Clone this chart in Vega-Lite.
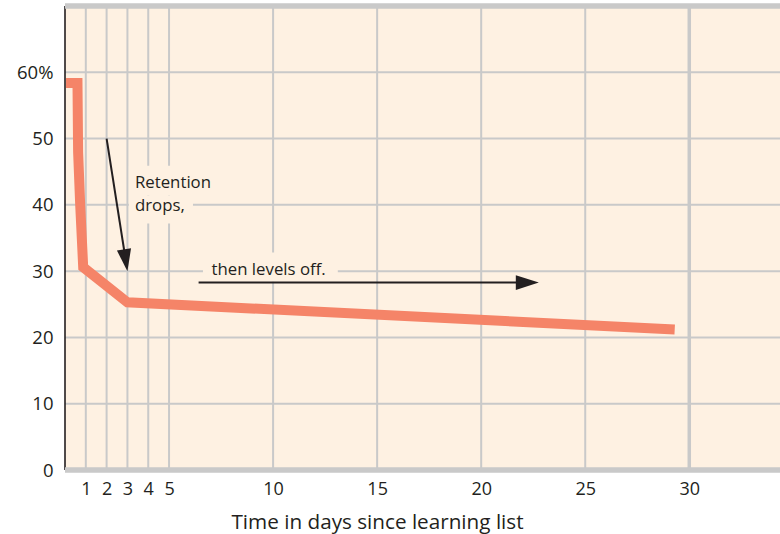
{
  "$schema": "https://vega.github.io/schema/vega-lite/v6.json",
  "width": 715,
  "height": 464,
  "autosize": {"type": "none"},
  "padding": {"left": 65, "top": 6, "right": 0, "bottom": 64},
  "background": "#ffffff",
  "config": {
    "view": {"fill": "#fef1e2", "stroke": null},
    "font": "Open Sans"
  },
  "datasets": {
    "retention": [
      {"t": 1, "day": 0.05, "pct": 58.4},
      {"t": 2, "day": 0.6, "pct": 58.4},
      {"t": 3, "day": 0.63, "pct": 48},
      {"t": 4, "day": 0.73, "pct": 40},
      {"t": 5, "day": 0.875, "pct": 30.6},
      {"t": 6, "day": 3, "pct": 25.3},
      {"t": 7, "day": 29.3, "pct": 21.2}
    ],
    "vgrid": [{"day": 1}, {"day": 2}, {"day": 3}, {"day": 4}, {"day": 5}, {"day": 10}, {"day": 15}, {"day": 20}, {"day": 25}],
    "vgrid30": [{"day": 30}],
    "hgrid": [{"pct": 10}, {"pct": 20}, {"pct": 30}, {"pct": 40}, {"pct": 50}, {"pct": 60}],
    "bands": [{"pct": 0}, {"pct": 70}],
    "leftline": [{"day": 0}],
    "masks": [
      {"day": 3.07, "day2": 7.54, "pct": 45.9, "pct2": 41.4},
      {"day": 3.07, "day2": 6.15, "pct": 41.4, "pct2": 37.2},
      {"day": 6.63, "day2": 13.11, "pct": 32.8, "pct2": 28.4}
    ],
    "arrows": [
      {"arrow": "a", "day": 2, "pct": 50},
      {"arrow": "a", "day": 2.85, "pct": 33},
      {"arrow": "b", "day": 6.42, "pct": 28.27},
      {"arrow": "b", "day": 22.0, "pct": 28.27}
    ],
    "heads": [
      {"arrow": "a", "day": 3, "pct": 30},
      {"arrow": "b", "day": 22.77, "pct": 28.27}
    ],
    "notes": [
      {"label": ["Retention", "drops,"], "day": 3.36, "pct": 42.5},
      {"label": ["then levels off."], "day": 7.04, "pct": 29.35}
    ]
  },
  "layer": [
    {
      "data": {"name": "vgrid"},
      "mark": {"type": "rule", "color": "#c9c9c9", "strokeWidth": 2},
      "encoding": {
        "x": {
          "field": "day", "type": "quantitative",
          "scale": {"domain": [0, 34.36], "nice": false, "zero": false},
          "axis": {
            "values": [1, 2, 3, 4, 5, 10, 15, 20, 25, 30],
            "domain": false, "ticks": false, "grid": false,
            "labelFont": "Open Sans", "labelFontSize": 18, "labelColor": "#231f20",
            "labelPadding": 10, "labelFlush": false,
            "title": "Time in days since learning list",
            "titleFont": "Open Sans", "titleFontSize": 20.7, "titleFontWeight": "normal",
            "titleColor": "#231f20", "titleX": 312, "titleY": 58,
            "titleAlign": "center", "titleBaseline": "alphabetic"
          }
        }
      }
    },
    {
      "data": {"name": "vgrid30"},
      "mark": {"type": "rule", "color": "#c9c9c9", "strokeWidth": 3.5},
      "encoding": {"x": {"field": "day", "type": "quantitative"}}
    },
    {
      "data": {"name": "hgrid"},
      "mark": {"type": "rule", "color": "#c9c9c9", "strokeWidth": 2},
      "encoding": {
        "y": {
          "field": "pct", "type": "quantitative",
          "scale": {"domain": [0, 70], "nice": false, "zero": false},
          "axis": {
            "values": [0, 10, 20, 30, 40, 50, 60],
            "labelExpr": "datum.value == 60 ? '60%' : datum.label",
            "domain": false, "ticks": false, "grid": false,
            "labelFont": "Open Sans", "labelFontSize": 18.5, "labelColor": "#231f20",
            "labelPadding": 12, "title": null
          }
        }
      }
    },
    {
      "data": {"name": "leftline"},
      "mark": {"type": "rule", "color": "#231f20", "strokeWidth": 1.6},
      "encoding": {"x": {"field": "day", "type": "quantitative"}}
    },
    {
      "data": {"name": "bands"},
      "mark": {"type": "rule", "color": "#c9c9c9", "strokeWidth": 5.5},
      "encoding": {"y": {"field": "pct", "type": "quantitative"}}
    },
    {
      "data": {"name": "masks"},
      "mark": {"type": "rect", "color": "#fef1e2", "opacity": 1, "strokeWidth": 0},
      "encoding": {
        "x": {"field": "day", "type": "quantitative"},
        "x2": {"field": "day2"},
        "y": {"field": "pct", "type": "quantitative"},
        "y2": {"field": "pct2"}
      }
    },
    {
      "data": {"name": "notes"},
      "mark": {"type": "text", "align": "left", "baseline": "alphabetic", "font": "Open Sans", "fontSize": 16.8, "lineHeight": 23, "color": "#231f20"},
      "encoding": {
        "x": {"field": "day", "type": "quantitative"},
        "y": {"field": "pct", "type": "quantitative"},
        "text": {"field": "label"}
      }
    },
    {
      "data": {"name": "retention"},
      "mark": {"type": "line", "color": "#f58468", "strokeWidth": 10, "strokeJoin": "miter", "strokeCap": "butt"},
      "encoding": {
        "x": {"field": "day", "type": "quantitative"},
        "y": {"field": "pct", "type": "quantitative"},
        "order": {"field": "t", "type": "quantitative"}
      }
    },
    {
      "data": {"name": "arrows"},
      "mark": {"type": "line", "color": "#231f20", "strokeWidth": 2},
      "encoding": {
        "x": {"field": "day", "type": "quantitative"},
        "y": {"field": "pct", "type": "quantitative"},
        "detail": {"field": "arrow"}
      }
    },
    {
      "data": {"name": "heads"},
      "transform": [{"filter": "datum.arrow == 'a'"}],
      "mark": {"type": "point", "shape": "M0,0L-0.65,-2L0.65,-2Z", "size": 484, "angle": -9, "filled": true, "opacity": 1, "color": "#231f20", "strokeWidth": 0},
      "encoding": {
        "x": {"field": "day", "type": "quantitative"},
        "y": {"field": "pct", "type": "quantitative"}
      }
    },
    {
      "data": {"name": "heads"},
      "transform": [{"filter": "datum.arrow == 'b'"}],
      "mark": {"type": "point", "shape": "M0,0L-2,-0.65L-2,0.65Z", "size": 529, "filled": true, "opacity": 1, "color": "#231f20", "strokeWidth": 0},
      "encoding": {
        "x": {"field": "day", "type": "quantitative"},
        "y": {"field": "pct", "type": "quantitative"}
      }
    }
  ]
}
